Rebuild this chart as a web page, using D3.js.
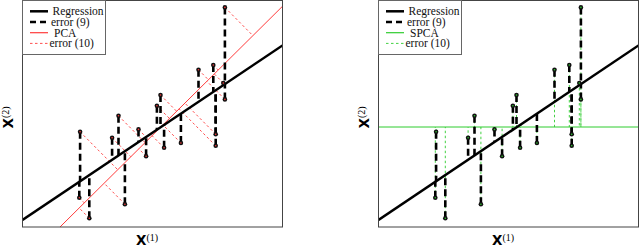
<!DOCTYPE html>
<html>
<head>
<meta charset="utf-8">
<script src="https://cdn.jsdelivr.net/npm/d3@7"></script>
<style>
    body { margin: 0; background: #fff; }
    svg { display: block; }
</style>
</head>
<body>
<div id="canvas"></div>

<script>
    const width = 640;
    const height = 247;

    // Data points (same sample in both panels)
    const pointX = [-2.06, -2.08, -1.83, -1.26, -1.10, -0.94, -0.60, -0.41, -0.14, -0.05,
                    0.04, 0.46, 0.90, 1.27, 1.33, 1.33, 1.56, 1.56, 1.52];
    const pointY = [-0.12, -1.77, -2.28, -0.27, 0.28, -1.93, -0.06, -0.73, 0.53, 0.80,
                    -0.52, -0.40, 1.43, 1.55, -0.47, -0.18, 2.99, 0.69, 1.10];

    // Fitted lines y = intercept + slope * x
    const lineNames = ["Regression", "PCA", "SPCA"];
    const lineIntercepts = [0.025, 0.042, 0];
    const lineSlopes = [0.6715, 0.992, 0];

    const xDomain = [-3.5, 3];
    const yDomain = [-2.5, 3.1625];

    const legendLabels = ["Regression", "error (9)", null, "error (10)"];

    const points = pointX.map((x, i) => ({x, y: pointY[i]}));
    const lines = lineNames.map((name, i) => ({name, a: lineIntercepts[i], b: lineSlopes[i]}));

    const svg = d3.select("#canvas")
        .append("svg")
        .attr("width", width)
        .attr("height", height);

    const x = d3.scaleLinear().domain(xDomain).range([22.5, 282.5]);
    const y = d3.scaleLinear().domain(yDomain).range([227, 0.5]);

    svg.append("clipPath")
        .attr("id", "frameClip")
        .append("rect")
        .attr("x", x.range()[0])
        .attr("y", y.range()[1])
        .attr("width", x.range()[1] - x.range()[0])
        .attr("height", y.range()[0] - y.range()[1]);

    // perpendicular foot of a point on line y = a + b x
    function project(p, line) {
        const t = (p.x + line.b * (p.y - line.a)) / (1 + line.b * line.b);
        return {x: t, y: line.a + line.b * t};
    }

    function drawPanel(offset, other, color) {
        const reg = lines[0];
        const g = svg.append("g").attr("transform", `translate(${offset},0)`);
        const plot = g.append("g").attr("clip-path", "url(#frameClip)");

        const lineEnds = l => xDomain.map(v => ({x: v, y: l.a + l.b * v}));

        // other method's line
        plot.append("line")
            .datum(lineEnds(other))
            .attr("x1", d => x(d[0].x)).attr("y1", d => y(d[0].y))
            .attr("x2", d => x(d[1].x)).attr("y2", d => y(d[1].y))
            .attr("stroke", color)
            .attr("stroke-width", 1);

        // error (10): orthogonal distance to that line
        plot.selectAll(".err10")
            .data(points)
            .enter()
            .append("line")
            .attr("x1", d => x(d.x)).attr("y1", d => y(d.y))
            .attr("x2", d => x(project(d, other).x))
            .attr("y2", d => y(project(d, other).y))
            .attr("stroke", color)
            .attr("stroke-width", 0.9)
            .attr("stroke-dasharray", "2.5,2.5");

        // error (9): vertical distance to regression line
        plot.selectAll(".err9")
            .data(points)
            .enter()
            .append("line")
            .attr("x1", d => x(d.x)).attr("y1", d => y(d.y))
            .attr("x2", d => x(d.x)).attr("y2", d => y(reg.a + reg.b * d.x))
            .attr("stroke", "#000")
            .attr("stroke-width", 2.6)
            .attr("stroke-dasharray", "7,4");

        plot.append("line")
            .datum(lineEnds(reg))
            .attr("x1", d => x(d[0].x)).attr("y1", d => y(d[0].y))
            .attr("x2", d => x(d[1].x)).attr("y2", d => y(d[1].y))
            .attr("stroke", "#000")
            .attr("stroke-width", 2.5);

        // data points
        plot.selectAll(".pt")
            .data(points)
            .enter()
            .append("circle")
            .attr("cx", d => x(d.x)).attr("cy", d => y(d.y))
            .attr("r", 2.3)
            .attr("fill", "#111");
        plot.selectAll(".ptc")
            .data(points)
            .enter()
            .append("circle")
            .attr("cx", d => x(d.x)).attr("cy", d => y(d.y))
            .attr("r", 0.8)
            .attr("fill", color);

        // frame
        g.append("rect")
            .attr("x", x.range()[0])
            .attr("y", y.range()[1])
            .attr("width", x.range()[1] - x.range()[0])
            .attr("height", y.range()[0] - y.range()[1])
            .attr("fill", "none")
            .attr("stroke", "#444")
            .attr("stroke-width", 1);

        // legend
        const lg = g.append("g").attr("transform", `translate(${x.range()[0]},0.5)`);
        lg.append("rect")
            .attr("width", 83)
            .attr("height", 54)
            .attr("fill", "#fff")
            .attr("stroke", "#666")
            .attr("stroke-width", 1);

        const labels = legendLabels.map(l => l === null ? other.name : l);
        const styles = [
            {stroke: "#000", w: 2.5, dash: null},
            {stroke: "#000", w: 2.6, dash: "6,4"},
            {stroke: color, w: 1.2, dash: null},
            {stroke: color, w: 0.9, dash: "2.5,2.5"}
        ];
        const rows = lg.selectAll(".row")
            .data(labels)
            .enter()
            .append("g")
            .attr("transform", (d, i) => `translate(0,${10.8 + i * 10.7})`);
        rows.append("line")
            .attr("x1", 7.5).attr("x2", 25.5)
            .attr("stroke", (d, i) => styles[i].stroke)
            .attr("stroke-width", (d, i) => styles[i].w)
            .attr("stroke-dasharray", (d, i) => styles[i].dash);
        rows.append("text")
            .attr("x", (d, i) => [30, 28.5, 31.5, 27][i])
            .attr("dy", "0.35em")
            .attr("font-family", "'Liberation Serif', serif")
            .attr("font-size", 11.5)
            .attr("fill", "#111")
            .text(d => d);

        // axis labels
        const xl = g.append("text")
            .attr("x", 136)
            .attr("y", 245);
        xl.append("tspan")
            .attr("font-family", "'DejaVu Sans', sans-serif")
            .attr("font-weight", "bold")
            .attr("font-size", 13.5)
            .text("X");
        xl.append("tspan")
            .attr("dy", -4)
            .attr("font-family", "'Liberation Serif', serif")
            .attr("font-size", 10)
            .text("(1)");

        const yl = g.append("text")
            .attr("transform", "translate(12.7,128.5) rotate(-90)");
        yl.append("tspan")
            .attr("font-family", "'DejaVu Sans', sans-serif")
            .attr("font-weight", "bold")
            .attr("font-size", 13.5)
            .text("X");
        yl.append("tspan")
            .attr("dy", -4)
            .attr("font-family", "'Liberation Serif', serif")
            .attr("font-size", 10)
            .text("(2)");
    }

    drawPanel(0, lines[1], "#ff3b3b");
    drawPanel(356, lines[2], "#2ecc2e");
</script>
</body>
</html>
